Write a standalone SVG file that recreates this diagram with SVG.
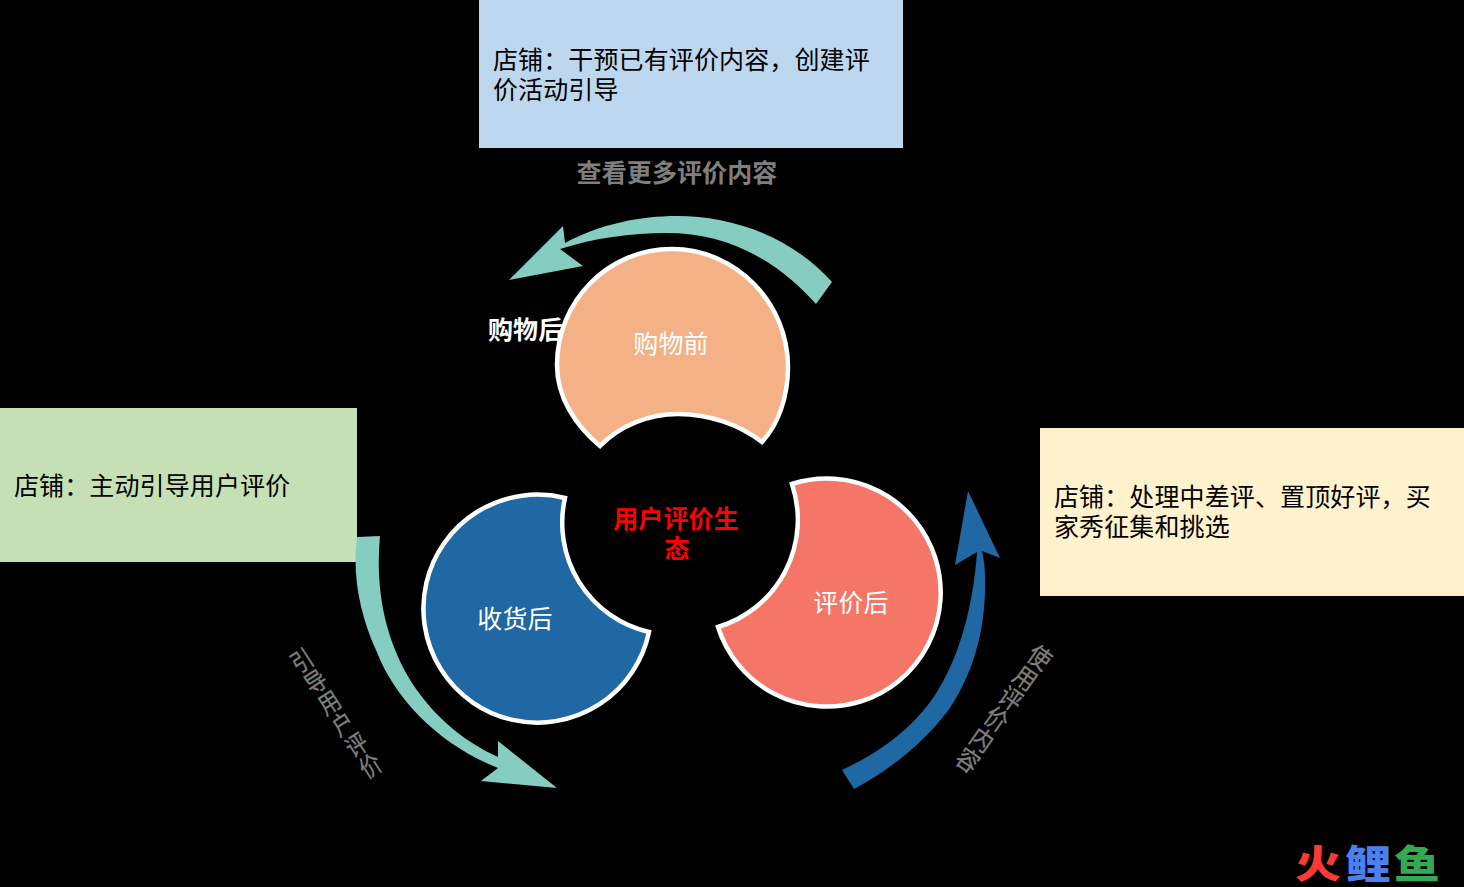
<svg xmlns="http://www.w3.org/2000/svg" width="1464" height="887" viewBox="0 0 1464 887">
<style>
text{font-family:"Noto Sans CJK SC","Noto Sans",sans-serif;font-size:25px;letter-spacing:.12px}
.w{fill:#fff}
.g{fill:#7f7f7f}
.b{font-weight:700}
.c{stroke:#fff;stroke-width:4.5;stroke-linejoin:miter}
.m{text-anchor:middle}
.v{writing-mode:vertical-rl;text-orientation:upright;stroke:#7f7f7f;stroke-width:.3}
</style>
<rect width="1464" height="887" fill="#000"/>
<g id="box-top"><rect x="479" y="0" width="424" height="148" fill="#bdd7ee"/><text x="493" y="69">店铺：干预已有评价内容，创建评</text><text x="493" y="99">价活动引导</text></g>
<g id="box-left"><rect x="0" y="408" width="357" height="154" fill="#c5e0b4"/><text x="14" y="495">店铺：主动引导用户评价</text></g>
<g id="box-right"><rect x="1040" y="428" width="424" height="168" fill="#fff2cc"/><text x="1054" y="506">店铺：处理中差评、置顶好评，买</text><text x="1054" y="536">家秀征集和挑选</text></g>
<g id="connectors">
<path fill="#85ccc1" d="M832,282C790,235 730,216 677,216C640,216 600,224 565,243L563,226L509,280L583,266L560,249C595,238 630,233 667,233C725,233 775,258 816,304Z"/>
<path fill="#85ccc1" d="M357,537L380,536C375,590 385,640 412,683C435,718 465,742 498,757L498,741L557,788L481,781L498,768C440,745 395,700 376,650C360,615 352,575 357,537Z"/>
<path fill="#1f68a4" d="M842,770C885,750 915,725 935,695C958,660 973,610 977,552L955,565L968,491L1000,558L982,551C984,560 985,568 985,577C986,620 978,665 950,708C925,742 890,770 854,789Z"/>
</g>
<text class="g b m" x="677" y="182">查看更多评价内容</text>
<text class="w b" x="488" y="339">购物后</text>
<g id="node-pre"><path class="c" fill="#f3b185" d="M600,446C575,425 557,397 557,365C557,301 608,249 672,249C736,249 788,303 788,367C788,397 778,425 762,442C740,425 710,414 678,414C650,414 620,425 600,446Z"/><text class="w m" x="671" y="353">购物前</text></g>
<g id="node-received"><path class="c" fill="#1f68a4" d="M565,498A114,114 0 1 0 649,632A112,112 0 0 1 565,498Z"/><text class="w m" x="515" y="628">收货后</text></g>
<g id="node-reviewed"><path class="c" fill="#f57567" d="M792,484A114,114 0 1 1 718,627A112,112 0 0 0 792,484Z"/><text class="w m" x="851" y="612">评价后</text></g>
<g id="center"><text class="b m" x="676" y="528" fill="#f00">用户评价生</text><text class="b m" x="677" y="558" fill="#f00">态</text></g>
<text class="g v" transform="translate(295,650) rotate(-33) scale(.85,1)">引导用户评价</text>
<text class="g v" transform="translate(1047,647) rotate(35) scale(.9,1)">使用评价内容</text>
<g id="logo"><g transform="translate(0,878) scale(1,.85)"><text x="1295" y="0" style="font-size:46px;font-weight:900" fill="#f93a35">火</text><text x="1345" y="0" style="font-size:46px;font-weight:900" fill="#4a80f0">鲤</text><text x="1394" y="0" style="font-size:46px;font-weight:900" fill="#34a853">鱼</text></g></g>
</svg>
